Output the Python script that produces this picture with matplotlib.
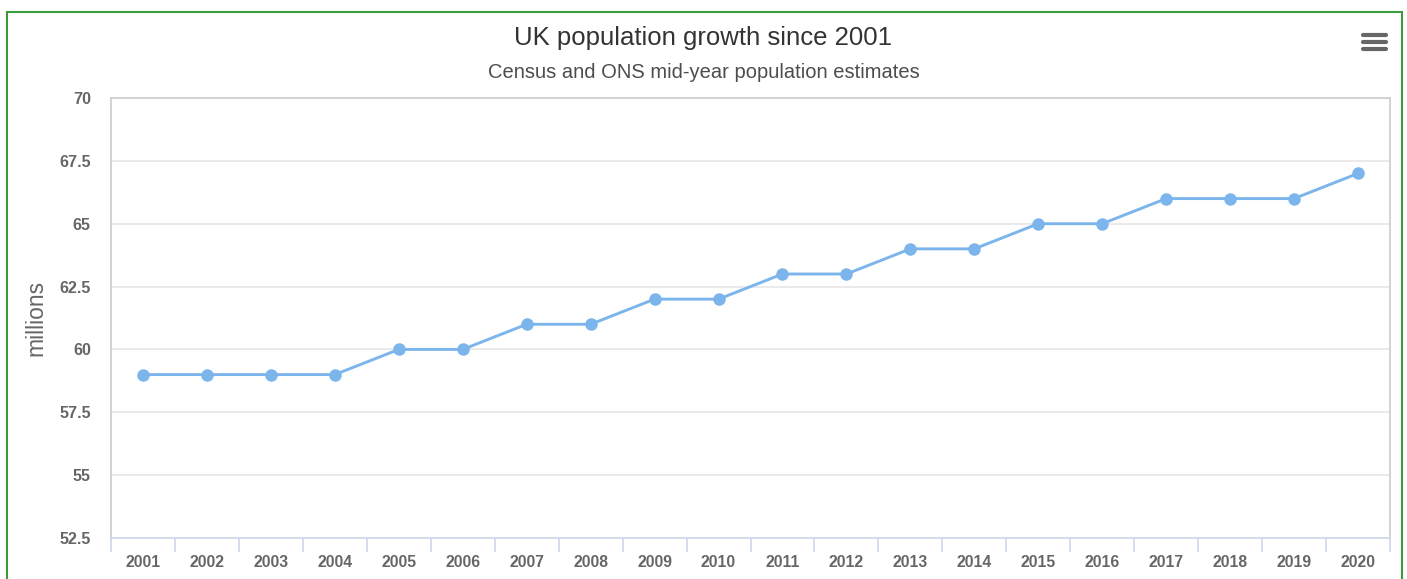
import matplotlib
matplotlib.use("Agg")
from matplotlib import pyplot as plt
from matplotlib import patches
from matplotlib.lines import Line2D

years = [str(y) for y in range(2001, 2021)]
population = [59, 59, 59, 59, 60, 60, 61, 61, 62, 62,
              63, 63, 64, 64, 65, 65, 66, 66, 66, 67]
y_ticks = [52.5, 55, 57.5, 60, 62.5, 65, 67.5, 70]
y_labels = ["52.5", "55", "57.5", "60", "62.5", "65", "67.5", "70"]

plt.rcParams['font.family'] = ['Liberation Sans', 'DejaVu Sans']

W, H = 1407, 579
fig = plt.figure(figsize=(W / 100, H / 100), dpi=100)
fig.patch.set_facecolor('white')

def fx(px):
    return px / W

def fy(py):
    return 1 - py / H

ax = fig.add_axes([fx(111), fy(538), fx(1390) - fx(111), fy(98) - fy(538)])

x = list(range(len(years)))
ax.plot(x, population, color='#7cb5ec', lw=2.1, marker='o', markersize=9,
        markeredgewidth=0, zorder=3, clip_on=False)

ax.set_xlim(-0.5, len(years) - 0.5)
ax.set_ylim(52.5, 70)

ax.set_yticks(y_ticks)
ax.set_yticklabels(y_labels)
ax.yaxis.grid(True, color='#e6e6e6', lw=1.2)
ax.set_axisbelow(True)
ax.tick_params(axis='y', length=0, pad=14.5, labelsize=11.6, labelcolor='#666666')
for lab in ax.get_yticklabels():
    lab.set_fontweight('bold')

ax.set_xticks(x)
ax.set_xticklabels(years)
ax.set_xticks([i - 0.5 for i in range(len(years) + 1)], minor=True)
ax.tick_params(axis='x', which='major', length=0, pad=12, labelsize=11.3,
               labelcolor='#666666')
ax.tick_params(axis='x', which='minor', length=10, width=1.2, color='#ccd6eb',
               direction='out')
for lab in ax.get_xticklabels():
    lab.set_fontweight('bold')

for side in ['top', 'left', 'right']:
    ax.spines[side].set_color('#cccccc')
    ax.spines[side].set_linewidth(1.2)
ax.spines['bottom'].set_color('#ccd6eb')
ax.spines['bottom'].set_linewidth(1.2)

ax.set_ylabel('millions', fontsize=16.5, color='#666666')
ax.yaxis.set_label_coords((47 - 111) / (1390 - 111), 0.5)

fig.text(0.5, fy(38), 'UK population growth since 2001', ha='center',
         va='center', fontsize=18.5, color='#333333')
fig.text(0.5, fy(73), 'Census and ONS mid-year population estimates',
         ha='center', va='center', fontsize=14.5, color='#4d4d4d')

# context menu icon
for yy in [35, 42, 49]:
    fig.add_artist(Line2D([fx(1363), fx(1386)], [fy(yy), fy(yy)],
                          color='#666666', lw=3, solid_capstyle='round'))

# outer frame
frame = patches.Rectangle((fx(7), fy(640)), fx(1402) - fx(7), fy(12) - fy(640),
                          transform=fig.transFigure, fill=False,
                          edgecolor='#3c9b3c', lw=1.5)
fig.add_artist(frame)

fig.savefig('out.png', dpi=100)
